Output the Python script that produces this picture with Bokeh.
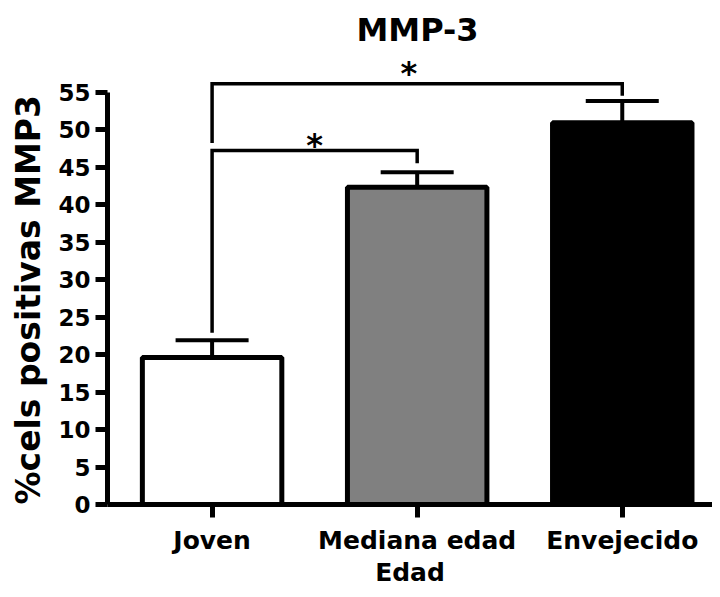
from bokeh.plotting import figure
from bokeh.models import Range1d, FixedTicker, Title
from bokeh.core.properties import value
from bokeh.embed import file_html
from bokeh.resources import INLINE

# ---- data ----
categories = ["Joven", "Mediana edad", "Envejecido"]
means = [19.6, 42.3, 50.9]
sems = [2.3, 2.0, 2.9]
bar_colors = ["#ffffff", "#808080", "#000000"]
y_ticks = [0, 5, 10, 15, 20, 25, 30, 35, 40, 45, 50, 55]
# significance brackets: (left index, right index), height, leg bottoms, mark
bracket_pairs = [(0, 1), (0, 2)]
bracket_heights = [47.2, 56.1]
bracket_left_bottoms = [22.9, 48.2]
bracket_right_bottoms = [45.5, 54.5]
bracket_marks = ["*", "*"]
bracket_mark_dx = [0.0, -0.04]
bracket_mark_dy = [0.8, 1.4]

FONT = "DejaVu Sans"

xc = [i + 0.5 for i in range(len(categories))]

p = figure(width=712, height=589,
           x_range=Range1d(-0.01, 2.94),
           y_range=Range1d(0, 60),
           output_backend="svg", toolbar_location=None,
           min_border_left=106, min_border_right=0,
           min_border_top=54, min_border_bottom=84)
p.outline_line_color = None
p.xgrid.grid_line_color = None
p.ygrid.grid_line_color = None
p.background_fill_color = "white"
p.border_fill_color = "white"

# title
p.title.text = "MMP-3"
p.title.align = "left"
p.title.offset = 249
p.title.text_font = FONT
p.title.text_font_size = "32px"
p.title.text_font_style = "bold"
p.title.text_color = "black"
p.title.standoff = 12

# bars
p.vbar(x=xc, top=means, bottom=0, width=0.68,
       fill_color=bar_colors, line_color="black", line_width=5)

# error bars (upper only)
tops = [m + s for m, s in zip(means, sems)]
p.segment(x0=xc, y0=means, x1=xc, y1=tops, line_color="black", line_width=4)
cap = 0.178
p.segment(x0=[x - cap for x in xc], y0=tops, x1=[x + cap for x in xc], y1=tops,
          line_color="black", line_width=4)

# brackets
for (a, b), h, lb, rb, mark, dx, dy in zip(bracket_pairs, bracket_heights,
                                          bracket_left_bottoms, bracket_right_bottoms,
                                          bracket_marks, bracket_mark_dx, bracket_mark_dy):
    p.line(x=[xc[a], xc[a], xc[b], xc[b]], y=[lb, h, h, rb],
           line_color="black", line_width=3.5, line_join="miter")
    p.text(x=[(xc[a] + xc[b]) / 2 + dx], y=[h + dy], text=[mark],
           text_font=value(FONT), text_font_style="bold", text_font_size="32px",
           text_align="center", text_baseline="middle", text_color="black")

# axes
for ax in (p.xaxis, p.yaxis):
    ax.axis_line_width = 5
    ax.axis_line_color = "black"
    ax.major_tick_line_width = 5
    ax.major_tick_line_color = "black"
    ax.major_tick_in = 0
    ax.minor_tick_line_color = None
    ax.major_label_text_font = FONT
    ax.major_label_text_font_style = "bold"
    ax.major_label_text_color = "black"
    ax.axis_label_text_font = FONT
    ax.axis_label_text_font_style = "bold"
    ax.axis_label_text_color = "black"

p.yaxis.ticker = FixedTicker(ticks=y_ticks)
p.yaxis.bounds = (0, 55)
p.yaxis.major_tick_out = 12
p.yaxis.major_label_standoff = 5
p.yaxis.major_label_text_font_size = "23px"

ylab = Title(text="%cels positivas MMP3", align="left", offset=0,
             vertical_align="middle", standoff=14,
             text_font=FONT, text_font_size="33px", text_font_style="bold",
             text_color="black")
p.add_layout(ylab, "left")

p.xaxis.ticker = FixedTicker(ticks=xc)
p.xaxis.major_label_overrides = {x: c for x, c in zip(xc, categories)}
p.xaxis.major_tick_out = 13
p.xaxis.major_label_standoff = 8
p.xaxis.major_label_text_font_size = "25px"
p.xaxis.axis_label = "Edad"
p.xaxis.axis_label_text_font_size = "25px"
p.xaxis.axis_label_standoff = 0

open("out.html", "w").write(file_html(p, INLINE))
